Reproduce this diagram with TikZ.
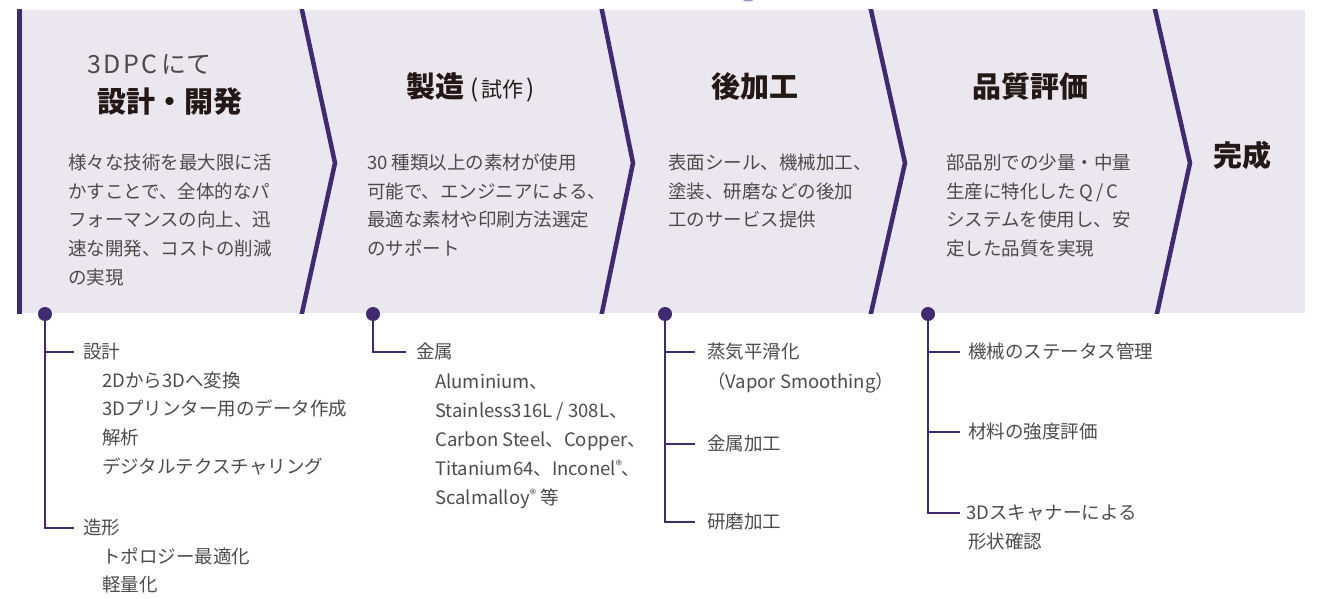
\documentclass[tikz,border=0pt]{standalone}
\usepackage{fontspec}
\setmainfont{Noto Sans CJK JP}
\definecolor{purp}{RGB}{64,42,112}
\definecolor{bandc}{RGB}{234,231,239}
\definecolor{ttext}{RGB}{35,24,21}
\definecolor{btext}{RGB}{78,74,74}
\definecolor{blob}{RGB}{160,146,195}
\newcommand{\regmark}{\raisebox{5pt}{\fontsize{13}{13}\selectfont ®}}
\tikzset{
  body/.style={inner sep=0pt, anchor=west, text=btext, font=\fontsize{18.5}{20}\selectfont, text height=15.5pt, text depth=3pt},
  ttl/.style={inner sep=0pt, text=ttext, font=\fontsize{29}{30}\selectfont\bfseries, text height=24pt, text depth=5pt},
  chev/.style={draw=purp, line width=4.5pt, line join=miter},
  tree/.style={draw=purp, line width=1.8pt},
}
\begin{document}
\begin{tikzpicture}[x=1pt,y=-1pt]
\useasboundingbox (0,0) rectangle (1320,599);
% band
\fill[bandc] (17,10) rectangle (1305,313);
\fill[blob] (748,-1) ellipse (6 and 2.5);
\begin{scope}
\clip (17,10) rectangle (1305,313);
\draw[chev] (19.5,5) -- (19.5,318);
\draw[chev] (300.9,5) -- (335,163) -- (300.9,318);
\draw[chev] (600.9,5) -- (633,163) -- (600.9,318);
\draw[chev] (869.9,5) -- (905,163) -- (869.9,318);
\draw[chev] (1154,5) -- (1190,163) -- (1156,318);
\end{scope}

% stage titles
\node[inner sep=0pt, anchor=west, text=btext, font=\fontsize{25}{26}\selectfont, text height=21pt, text depth=4pt] (h1a) at (87,65) {3\hspace{2.5pt}D\hspace{2.5pt}P\hspace{2.5pt}C\hspace{4pt}にて};
\node[ttl] (h1b) at (170,103) {設計・開発};
\node[ttl, anchor=west] (h2) at (406,88) {製造\hspace{6pt}{\mdseries\fontsize{24}{25}\selectfont (\hspace{3pt}{\fontsize{21}{22}\selectfont 試作}\hspace{3pt})}};
\node[ttl] (h3) at (755,88) {後加工};
\node[ttl] (h4) at (1030,88) {品質評価};
\node[ttl] (h5) at (1242,157) {完成};

% stage bodies
\foreach \t [count=\i] in {様々な技術を最大限に活,かすことで、全体的なパ,フォーマンスの向上、迅,速な開発、コストの削減,の実現}
  \node[body] (a\i) at (68,{163+(\i-1)*28.8}) {\t};
\foreach \t [count=\i] in {30 種類以上の素材が使用,可能で、エンジニアによる、,最適な素材や印刷方法選定,のサポート}
  \node[body] (b\i) at (367,{163+(\i-1)*28.8}) {\t};
\foreach \t [count=\i] in {表面シール、機械加工、,塗装、研磨などの後加,工のサービス提供}
  \node[body] (c\i) at (668,{163+(\i-1)*28.8}) {\t};
\foreach \t [count=\i] in {部品別での少量・中量,生産に特化した Q\hspace{3pt}/\hspace{3pt}C,システムを使用し、安,定した品質を実現}
  \node[body] (e\i) at (946,{163+(\i-1)*28.8}) {\t};

% tree 1
\node[body] (s1) at (83,352) {設計};
\foreach \t [count=\i] in {2Dから3Dへ変換,3Dプリンター用のデータ作成,解析,デジタルテクスチャリング}
  \node[body] (s1\i) at (102,{381+(\i-1)*28.6}) {\t};
\node[body] (s2) at (83,528) {造形};
\node[body] (s21) at (102,557) {トポロジー最適化};
\node[body] (s22) at (102,585) {軽量化};

% tree 2
\node[body] (m1) at (416,352) {金属};
\foreach \t [count=\i] in {Aluminium、,Stainless316L / 308L、,Carbon Steel、Copper、,Titanium64、Inconel\regmark 、,Scalmalloy\regmark\ 等}
  \node[body] (m1\i) at (435,{382+(\i-1)*29}) {\t};

% tree 3
\node[body] (p1) at (707,352) {蒸気平滑化};
\node[body] (p1a) at (707,382) {（Vapor Smoothing）};
\node[body] (p2) at (707,444) {金属加工};
\node[body] (p3) at (707,522) {研磨加工};

% tree 4
\node[body] (q1) at (968,352) {機械のステータス管理};
\node[body] (q2) at (968,432) {材料の強度評価};
\node[body] (q3) at (966,513) {3Dスキャナーによる};
\node[body] (q3a) at (968,542) {形状確認};

% dots
\coordinate (d1) at (45,314);
\coordinate (d2) at (373,314);
\coordinate (d3) at (665,314);
\coordinate (d4) at (928,314);

\draw[tree] (d1) |- ([xshift=-9pt]s1.west);
\draw[tree] (d1) |- ([xshift=-9pt]s2.west);
\draw[tree] (d2) |- ([xshift=-10pt]m1.west);
\draw[tree] (d3) |- ([xshift=-12pt]p1.west);
\draw[tree] (d3) |- ([xshift=-12pt]p2.west);
\draw[tree] (d3) |- ([xshift=-12pt]p3.west);
\draw[tree] (d4) |- ([xshift=-8pt]q1.west);
\draw[tree] (d4) |- ([xshift=-8pt]q2.west);
\draw[tree] (d4) |- ([xshift=-6pt]q3.west);

\foreach \d in {d1,d2,d3,d4} \fill[purp] (\d) circle (7);
\end{tikzpicture}
\end{document}
